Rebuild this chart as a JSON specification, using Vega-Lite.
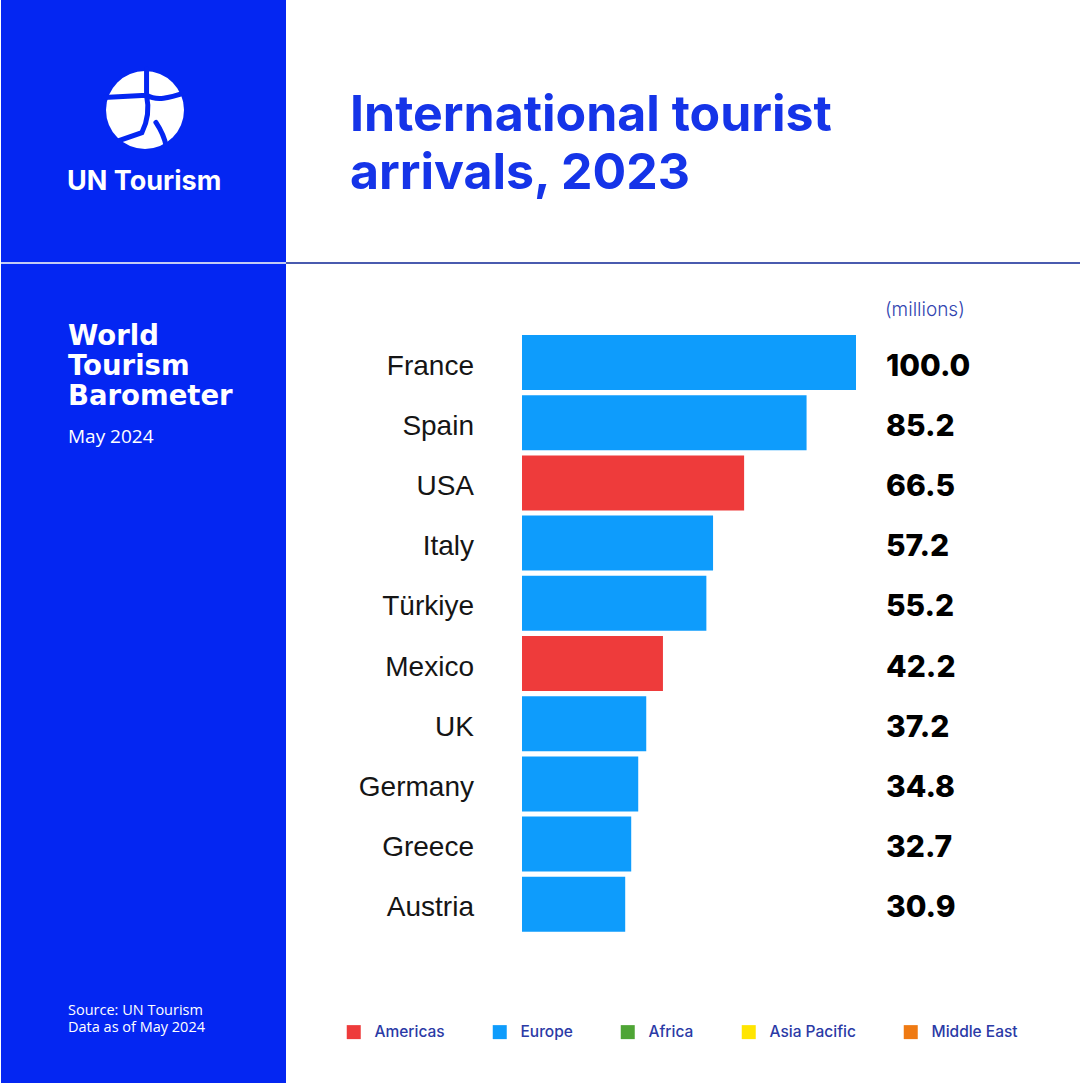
{
  "$schema": "https://vega.github.io/schema/vega-lite/v6.json",
  "width": 1080,
  "height": 1083,
  "autosize": {"type": "fit", "contains": "padding"},
  "padding": 0,
  "background": "#ffffff",
  "config": {"view": {"stroke": null}},
  "datasets": {
    "arrivals": [
      {"country": "France", "value": 100.0, "region": "Europe"},
      {"country": "Spain", "value": 85.2, "region": "Europe"},
      {"country": "USA", "value": 66.5, "region": "Americas"},
      {"country": "Italy", "value": 57.2, "region": "Europe"},
      {"country": "Türkiye", "value": 55.2, "region": "Europe"},
      {"country": "Mexico", "value": 42.2, "region": "Americas"},
      {"country": "UK", "value": 37.2, "region": "Europe"},
      {"country": "Germany", "value": 34.8, "region": "Europe"},
      {"country": "Greece", "value": 32.7, "region": "Europe"},
      {"country": "Austria", "value": 30.9, "region": "Europe"}
    ],
    "one": [{}]
  },
  "layer": [
    {
      "data": {"name": "one"},
      "mark": {"type": "rect", "fill": "#0426F2"},
      "encoding": {"x": {"value": 0}, "x2": {"value": 285}, "y": {"value": 0}, "y2": {"value": 1083}}
    },
    {
      "data": {"name": "one"},
      "mark": {"type": "rule", "stroke": "#C3CBF4", "strokeWidth": 2},
      "encoding": {"x": {"value": 0}, "x2": {"value": 285}, "y": {"value": 263}}
    },
    {
      "data": {"name": "one"},
      "mark": {"type": "rule", "stroke": "#4A5BAF", "strokeWidth": 2},
      "encoding": {"x": {"value": 285}, "x2": {"value": 1080}, "y": {"value": 263}}
    },
    {
      "data": {"name": "one"},
      "mark": {"type": "point", "shape": "circle", "filled": true, "fill": "#ffffff", "opacity": 1, "size": 6084},
      "encoding": {"x": {"value": 144}, "y": {"value": 110}}
    },
    {
      "data": {"name": "one"},
      "mark": {
        "type": "point",
        "shape": "M0.04,-1.05 L0.04,-0.38 M-1.05,-0.32 L0.04,-0.38 M0.04,-0.38 C0.3,-0.22 0.6,-0.3 1.05,-0.45 M0.04,-0.38 C0.12,0 0.06,0.3 -0.08,0.58 L-0.65,0.78 M0.28,0.32 C0.4,0.5 0.5,0.7 0.55,0.95",
        "filled": false,
        "stroke": "#0426F2",
        "strokeWidth": 5,
        "strokeCap": "round",
        "opacity": 1,
        "size": 6084
      },
      "encoding": {"x": {"value": 144}, "y": {"value": 110}}
    },
    {
      "data": {"name": "one"},
      "mark": {"type": "text", "text": "UN Tourism", "font": "Inter", "fontWeight": 700, "fontSize": 27, "fill": "#ffffff", "align": "left", "baseline": "alphabetic"},
      "encoding": {"x": {"value": 66}, "y": {"value": 190}}
    },
    {
      "data": {"name": "one"},
      "mark": {"type": "text", "text": ["World", "Tourism", "Barometer"], "lineHeight": 30, "font": "DejaVu Sans", "fontWeight": 700, "fontSize": 27.5, "fill": "#ffffff", "align": "left", "baseline": "alphabetic"},
      "encoding": {"x": {"value": 67}, "y": {"value": 345}}
    },
    {
      "data": {"name": "one"},
      "mark": {"type": "text", "text": "May 2024", "font": "Open Sans", "fontWeight": 500, "fontSize": 19, "fill": "#ffffff", "align": "left", "baseline": "alphabetic"},
      "encoding": {"x": {"value": 67}, "y": {"value": 443}}
    },
    {
      "data": {"name": "one"},
      "mark": {"type": "text", "text": ["Source: UN Tourism", "Data as of May 2024"], "lineHeight": 17, "font": "Open Sans", "fontWeight": 500, "fontSize": 14.5, "fill": "#ffffff", "align": "left", "baseline": "alphabetic"},
      "encoding": {"x": {"value": 67}, "y": {"value": 1015}}
    },
    {
      "data": {"name": "one"},
      "mark": {"type": "text", "text": ["International tourist", "arrivals, 2023"], "lineHeight": 58, "font": "Inter", "fontWeight": 700, "fontSize": 50, "fill": "#1534E8", "align": "left", "baseline": "alphabetic"},
      "encoding": {"x": {"value": 349}, "y": {"value": 131}}
    },
    {
      "data": {"name": "one"},
      "mark": {"type": "text", "text": "(millions)", "font": "Inter", "fontWeight": 300, "fontSize": 19, "fill": "#3144B0", "align": "left", "baseline": "alphabetic"},
      "encoding": {"x": {"value": 884}, "y": {"value": 316}}
    },
    {
      "data": {"name": "arrivals"},
      "mark": {"type": "bar", "strokeWidth": 0},
      "encoding": {
        "y": {"field": "country", "type": "nominal", "sort": null, "axis": null,
              "scale": {"range": [332.4, 934.4], "paddingInner": 0.086, "paddingOuter": 0.043}},
        "x": {"field": "value", "type": "quantitative", "axis": null,
              "scale": {"domain": [0, 100], "range": [521, 855], "nice": false, "zero": true}},
        "color": {
          "field": "region", "type": "nominal",
          "scale": {"domain": ["Americas", "Europe", "Africa", "Asia Pacific", "Middle East"],
                    "range": ["#EE3B3B", "#0E9CFC", "#4EA535", "#FFE500", "#EF7A12"]},
          "legend": {
            "title": null, "orient": "none", "legendX": 345, "legendY": 1024, "direction": "horizontal",
            "symbolType": "square", "symbolSize": 196, "symbolStrokeWidth": 0, "symbolOpacity": 1,
            "labelFont": "Inter", "labelFontSize": 15.5, "labelFontWeight": 500, "labelColor": "#2B3AA6",
            "labelOffset": 13, "columnPadding": 47, "padding": 0
          }
        }
      }
    },
    {
      "data": {"name": "arrivals"},
      "mark": {"type": "text", "align": "right", "baseline": "middle", "dx": -48, "dy": 4, "font": "Liberation Sans", "fontSize": 28, "fill": "#151515"},
      "encoding": {
        "y": {"field": "country", "type": "nominal", "sort": null},
        "x": {"datum": 0, "type": "quantitative"},
        "text": {"field": "country"}
      }
    },
    {
      "data": {"name": "arrivals"},
      "mark": {"type": "text", "align": "left", "baseline": "middle", "dy": 4, "font": "Inter", "fontWeight": 800, "fontSize": 30, "fill": "#000000"},
      "encoding": {
        "y": {"field": "country", "type": "nominal", "sort": null},
        "x": {"datum": 109, "type": "quantitative"},
        "text": {"field": "value", "type": "quantitative", "format": ".1f"}
      }
    }
  ]
}
